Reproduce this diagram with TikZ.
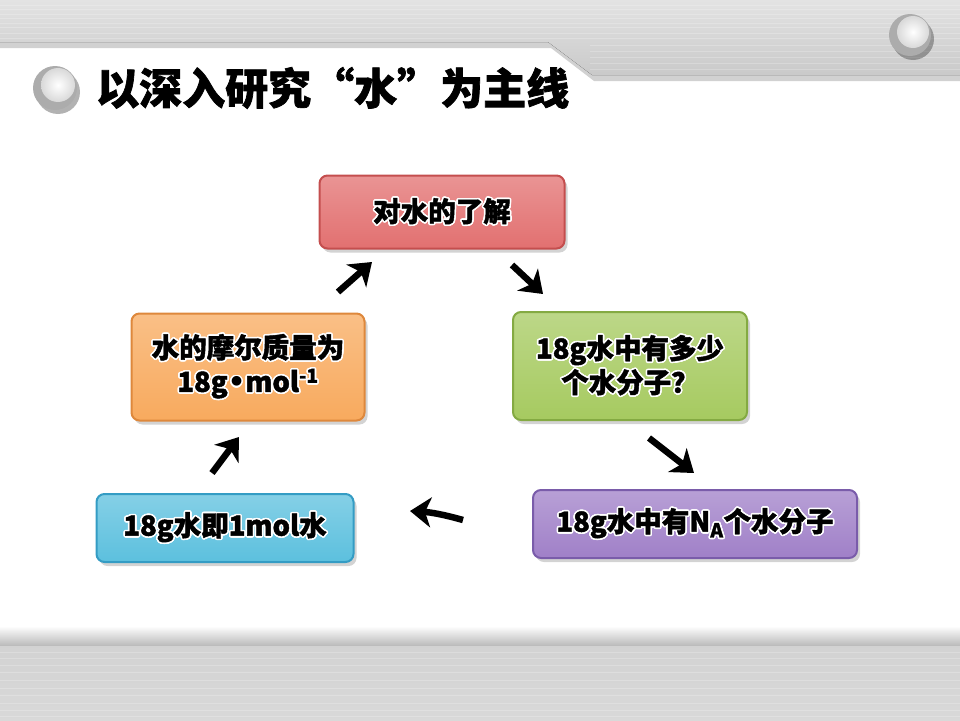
\documentclass[tikz,border=0pt]{standalone}
\usepackage{fontspec}
\newfontfamily\cjk{Noto Sans CJK SC}
\newfontfamily\cjkheavy{Noto Sans CJK SC}[BoldFeatures={FakeBold=1.6}]
\newfontfamily\sym{DejaVu Sans}
\usepackage[copies]{contour}
\contournumber{16}
\contourlength{1.6pt}
\usetikzlibrary{arrows.meta,shadows}
\definecolor{knowfill}{RGB}{226,112,112}
\definecolor{knowline}{RGB}{196,78,78}
\definecolor{howfill}{RGB}{166,202,96}
\definecolor{howline}{RGB}{132,170,66}
\definecolor{molfill}{RGB}{248,170,94}
\definecolor{molline}{RGB}{222,136,60}
\definecolor{onefill}{RGB}{92,192,222}
\definecolor{oneline}{RGB}{52,156,196}
\definecolor{nafill}{RGB}{160,128,200}
\definecolor{naline}{RGB}{122,92,170}
\newcommand{\glow}[1]{\contour{white}{#1}}
\begin{document}
\begin{tikzpicture}[x=1pt,y=-1pt,
    stepbox/.style={rounded corners=8pt, line width=2pt, align=center, inner sep=0pt,
        drop shadow={shadow xshift=3pt, shadow yshift=-4pt, opacity=0.35},
        font=\cjkheavy\bfseries\fontsize{27.5}{34}\selectfont},
    flow/.style={line width=6.5pt, -{Stealth[length=21pt,width=30pt,inset=6pt]}}]
    \useasboundingbox (0,0) rectangle (960,720);
    %% header band
    \fill[black, opacity=0.18] (0,0) -- (960,0) -- (960,81) -- (594,81) -- (551,48) -- (0,48) -- cycle;
    \fill[top color=gray!22, bottom color=gray!42] (0,0) -- (960,0) -- (960,75) -- (592,75) -- (548,42) -- (0,42) -- cycle;
    \foreach \y in {5,9,14,18,23,27,33,38}
        \draw[white, opacity=0.22, line width=0.8pt] (0,\y) -- (960,\y);
    \foreach \y in {45,51,57,63,69}
        \draw[white, opacity=0.22, line width=0.8pt] (590,\y) -- (960,\y);
    %% bottom band
    \shade[top color=white, bottom color=gray!55] (0,626) rectangle (960,646);
    \fill[top color=gray!35, bottom color=gray!30] (0,646) rectangle (960,720);
    \foreach \y in {652,658,665,672,680,688,695,703,710,716}
        \draw[white, opacity=0.22, line width=0.8pt] (0,\y) -- (960,\y);
    %% buttons
    \fill[black, opacity=0.3] (913,39) circle (21pt);
    \fill[gray!65] (910,35) circle (21pt);
    \shade[inner color=white, outer color=gray!30] (913,32) circle (16pt);
    \fill[black, opacity=0.3] (58,92) circle (22pt);
    \fill[gray!65] (55,88) circle (22pt);
    \shade[inner color=white, outer color=gray!30] (58,85) circle (17pt);
    %% title
    \node[anchor=west, inner sep=0pt, font=\cjkheavy\bfseries\fontsize{43}{48}\selectfont] (title) at (96,88) {以深入研究“水”为主线};
    %% boxes
    \node[stepbox, top color=knowfill!75!white, bottom color=knowfill, draw=knowline,
        minimum width=245pt, minimum height=73pt] (know) at (442,212) {\glow{对水的了解}};
    \node[stepbox, top color=howfill!75!white, bottom color=howfill, draw=howline,
        minimum width=234pt, minimum height=108pt] (how) at (630,366) {\glow{18g水中有多少}\\\glow{个水分子？}};
    \node[stepbox, top color=molfill!75!white, bottom color=molfill, draw=molline,
        minimum width=233pt, minimum height=107pt] (molar) at (248,367) {\glow{水的摩尔质量为}\\\glow{18g{\sym\bfseries •}mol\textsuperscript{-1}}};
    \node[stepbox, top color=onefill!75!white, bottom color=onefill, draw=oneline,
        minimum width=257pt, minimum height=68pt] (onemol) at (225,528) {\glow{18g水即1mol水}};
    \node[stepbox, top color=nafill!75!white, bottom color=nafill, draw=naline,
        minimum width=324pt, minimum height=68pt] (na) at (695,524) {\glow{18g水中有N\textsubscript{A}个水分子}};
    %% arrows (free ends)
    \coordinate (up1s) at (338,292); \coordinate (up1e) at (372,262);
    \coordinate (dn1s) at (512,265); \coordinate (dn1e) at (543,294);
    \coordinate (dn2s) at (649,438); \coordinate (dn2e) at (694,473);
    \coordinate (lfs) at (463,520);  \coordinate (lfe) at (410,511);
    \coordinate (up2s) at (212,473); \coordinate (up2e) at (239,437);
    \draw[flow] (up1s) -- (up1e);
    \draw[flow] (dn1s) -- (dn1e);
    \draw[flow] (dn2s) -- (dn2e);
    \draw[flow] (lfs) to[bend right=6] (lfe);
    \draw[flow] (up2s) -- (up2e);
\end{tikzpicture}
\end{document}
